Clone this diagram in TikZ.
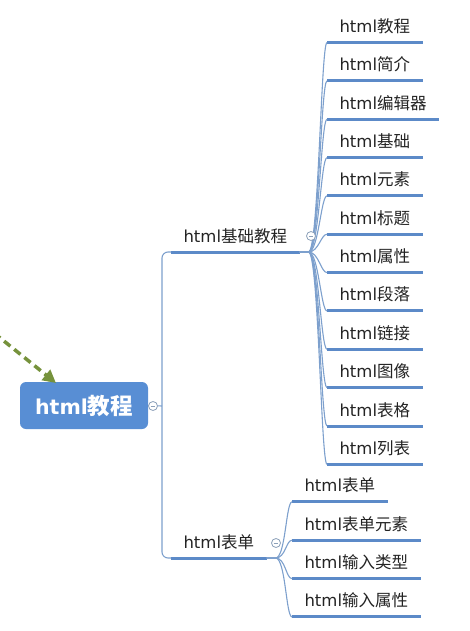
\documentclass[tikz,border=0pt]{standalone}
\usepackage{fontspec}
\usetikzlibrary{arrows.meta}
\newfontfamily\latf{DejaVu Sans}
\newfontfamily\cjkf{Noto Sans CJK SC}
\newcommand\hm[1]{{\latf html}{\cjkf #1}}
\definecolor{rootblue}{RGB}{88,142,212}
\definecolor{ulblue}{RGB}{92,138,200}
\definecolor{thinblue}{RGB}{125,160,205}
\definecolor{txt}{RGB}{35,35,35}
\definecolor{arrgreen}{RGB}{118,146,60}
\definecolor{circgray}{RGB}{140,160,185}
\begin{document}
\begin{tikzpicture}[x=1pt,y=-1pt,
  lbl/.style={anchor=south west, inner xsep=12.5pt, inner ysep=0pt, outer sep=0pt,
    text depth=10pt, text height=14pt, text=txt, font=\fontsize{16.5}{20}\selectfont},
  uline/.style={draw=ulblue, line width=3pt},
  thinl/.style={draw=thinblue, line width=1.1pt},
  rootbox/.style={fill=rootblue, rounded corners=6pt, minimum width=128pt, minimum height=47pt,
    inner sep=0pt, text=white},
  coll/.style={circle, draw=circgray, fill=white, line width=0.8pt, minimum size=9pt, inner sep=0pt,
    path picture={\draw[circgray, line width=0.8pt] ([xshift=2.2pt]path picture bounding box.west) -- ([xshift=-2.2pt]path picture bounding box.east);}},
  dasharrow/.style={draw=arrgreen, line width=3.5pt, dash pattern=on 8pt off 5pt,
    -{Triangle[length=13pt,width=13pt,fill=arrgreen]}}
]
\useasboundingbox (0,0) rectangle (469,631);
% root
\node[rootbox] (root) at (84,405.5) {\bfseries{\fontsize{20.5}{24}\selectfont\latf html}{\fontsize{22.5}{26}\selectfont\cjkf 教程}};
% branches
\node[lbl] (b1) at (171,252) {\hm{基础教程}};
\node[lbl] (b2) at (171,558) {\hm{表单}};
\draw[uline] (b1.south west) -- (b1.south east);
\draw[uline] (b2.south west) -- (b2.south east);
% trunk
\coordinate (j) at (162,406);
\draw[thinl] (root.east) -- (j);
\draw[thinl, rounded corners=6pt] (b1.south west) -| (j) |- (b2.south west);
% leaves of b1
\foreach \t [count=\i] in {教程,简介,编辑器,基础,元素,标题,属性,段落,链接,图像,表格,列表} {
  \node[lbl] (a\i) at (327,{42.5+38.35*(\i-1)}) {\hm{\t}};
  \draw[uline] (a\i.south west) -- (a\i.south east);
  \draw[thinl] (b1.south east) -- ++(9,0) .. controls +(10,0) and +(-6,0) .. (a\i.south west);
}
% leaves of b2
\foreach \t [count=\i] in {表单,表单元素,输入类型,输入属性} {
  \node[lbl] (c\i) at (292,{501.9+38.35*(\i-1)}) {\hm{\t}};
  \draw[uline] (c\i.south west) -- (c\i.south east);
  \draw[thinl] (b2.south east) -- ++(9,0) .. controls +(10,0) and +(-6,0) .. (c\i.south west);
}
% collapse markers
\node[coll] (k0) at (153,406) {};
\node[coll] (k1) at (311,236) {};
\node[coll] (k2) at (276,543) {};
% dashed arrow
\coordinate (src) at (-6,333);
\coordinate (tip) at (56,383);
\draw[dasharrow] (src) -- (tip);
\end{tikzpicture}
\end{document}
